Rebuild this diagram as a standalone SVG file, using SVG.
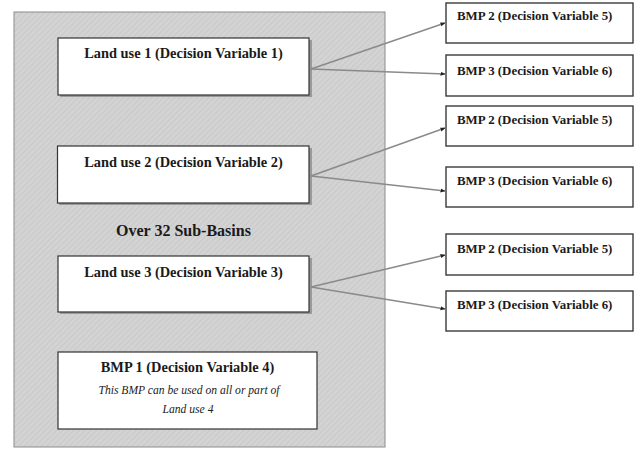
<svg xmlns="http://www.w3.org/2000/svg" width="636" height="449" viewBox="0 0 636 449">
<defs>
<pattern id="hatch" width="4" height="4" patternUnits="userSpaceOnUse" patternTransform="rotate(45)">
<rect width="4" height="4" fill="#d3d3d3"/>
<line x1="0" y1="0" x2="0" y2="4" stroke="#c6c6c6" stroke-width="1.5"/>
</pattern>
<marker id="ah" viewBox="0 0 10 10" refX="9" refY="5" markerWidth="5" markerHeight="5" orient="auto" markerUnits="userSpaceOnUse">
<path d="M0,1 L10,5 L0,9 Z" fill="#222"/>
</marker>
</defs>
<style>
.box{fill:#fff;stroke:#333;stroke-width:1.2}
.shadow{fill:#9a9a9a}
.rbox{fill:#fff;stroke:#3a3a3a;stroke-width:1.4}
.lbl{font-family:"Liberation Serif",serif;font-weight:bold;fill:#1a1a1a}
.lu{font-size:14.4px;text-anchor:middle}
.bmp{font-size:12.9px}
.it{font-family:"Liberation Serif",serif;font-style:italic;font-size:11.6px;fill:#222;text-anchor:middle}
.conn{stroke:#8a8a8a;stroke-width:1.5;fill:none}
</style>
<g id="subbasins">
<rect x="14" y="12" width="371" height="435" fill="url(#hatch)" stroke="#8c8c8c" stroke-width="1"/>
<text class="lbl" x="183.5" y="236" font-size="16" text-anchor="middle">Over 32 Sub-Basins</text>
</g>
<g id="landuse1">
<rect class="shadow" x="60" y="40" width="252" height="57"/>
<rect class="box" x="58" y="38" width="251" height="57"/>
<text class="lbl lu" x="183.5" y="58">Land use 1 (Decision Variable 1)</text>
</g>
<g id="landuse2">
<rect class="shadow" x="59" y="148" width="253" height="57"/>
<rect class="box" x="57.5" y="146" width="251.5" height="57"/>
<text class="lbl lu" x="183.5" y="167">Land use 2 (Decision Variable 2)</text>
</g>
<g id="landuse3">
<rect class="shadow" x="60" y="258" width="252" height="56"/>
<rect class="box" x="58" y="256" width="251" height="56"/>
<text class="lbl lu" x="183.5" y="277">Land use 3 (Decision Variable 3)</text>
</g>
<g id="bmp1">
<rect class="box" x="58" y="352" width="259" height="77"/>
<text class="lbl lu" x="187.5" y="372">BMP 1 (Decision Variable 4)</text>
<text class="it" x="189" y="394">This BMP can be used on all or part of</text>
<text class="it" x="188" y="413">Land use 4</text>
</g>
<g id="bmp2a">
<rect class="rbox" x="446" y="3" width="187" height="40"/>
<text class="lbl bmp" x="457" y="20">BMP 2 (Decision Variable 5)</text>
</g>
<g id="bmp3a">
<rect class="rbox" x="446" y="55" width="187" height="41"/>
<text class="lbl bmp" x="457" y="75">BMP 3 (Decision Variable 6)</text>
</g>
<g id="bmp2b">
<rect class="rbox" x="446" y="106" width="187" height="40"/>
<text class="lbl bmp" x="457" y="124">BMP 2 (Decision Variable 5)</text>
</g>
<g id="bmp3b">
<rect class="rbox" x="446" y="167" width="187" height="40"/>
<text class="lbl bmp" x="457" y="185">BMP 3 (Decision Variable 6)</text>
</g>
<g id="bmp2c">
<rect class="rbox" x="446" y="234" width="187" height="41"/>
<text class="lbl bmp" x="457" y="253">BMP 2 (Decision Variable 5)</text>
</g>
<g id="bmp3c">
<rect class="rbox" x="446" y="291" width="187" height="40"/>
<text class="lbl bmp" x="457" y="309">BMP 3 (Decision Variable 6)</text>
</g>
<g id="connectors">
<line class="conn" x1="311" y1="69" x2="445" y2="23" marker-end="url(#ah)"/>
<line class="conn" x1="311" y1="69" x2="445" y2="74" marker-end="url(#ah)"/>
<line class="conn" x1="311" y1="176" x2="445" y2="128" marker-end="url(#ah)"/>
<line class="conn" x1="311" y1="176" x2="445" y2="191" marker-end="url(#ah)"/>
<line class="conn" x1="311" y1="287" x2="445" y2="255" marker-end="url(#ah)"/>
<line class="conn" x1="311" y1="287" x2="445" y2="309" marker-end="url(#ah)"/>
</g>
</svg>
